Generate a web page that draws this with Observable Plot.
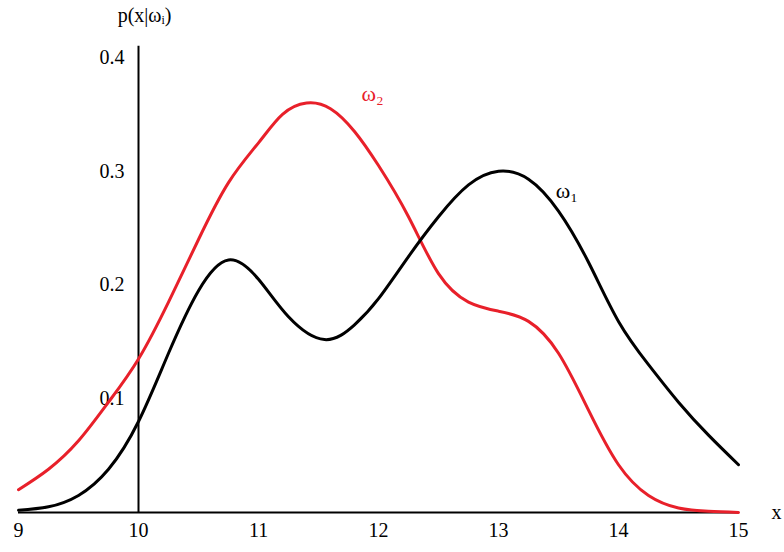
<!DOCTYPE html>
<html><head><meta charset="utf-8">
<script src="https://cdn.jsdelivr.net/npm/d3@7"></script>
<script src="https://cdn.jsdelivr.net/npm/@observablehq/plot@0.6"></script>
<style>body{margin:0;background:#fff}</style>
</head><body><div id="chart"></div>
<script>
const xs1 = [9, 9.25, 9.5, 9.75, 10, 10.25, 10.5, 10.75, 11, 11.25, 11.55, 11.8, 12, 12.25, 12.5, 12.75, 13, 13.25, 13.5, 13.75, 14, 14.25, 14.5, 14.75, 15]
const w1 = [0.002, 0.005, 0.015, 0.038, 0.08, 0.14, 0.195, 0.222, 0.205, 0.172, 0.152, 0.165, 0.188, 0.225, 0.26, 0.288, 0.30, 0.293, 0.265, 0.22, 0.168, 0.13, 0.097, 0.068, 0.042]
const xs2 = [9, 9.25, 9.5, 9.75, 10, 10.25, 10.5, 10.75, 11, 11.2, 11.4, 11.6, 11.8, 12, 12.25, 12.5, 12.75, 13, 13.25, 13.5, 13.75, 14, 14.25, 14.5, 14.75, 15]
const w2 = [0.02, 0.038, 0.063, 0.097, 0.135, 0.185, 0.24, 0.29, 0.325, 0.35, 0.36, 0.355, 0.335, 0.305, 0.26, 0.21, 0.185, 0.177, 0.168, 0.14, 0.09, 0.042, 0.015, 0.004, 0.001, 0.0]
const yTicks = [0.1, 0.2, 0.3, 0.4]
const xTicks = [9, 10, 11, 12, 13, 14, 15]

const d1 = xs1.map((x, i) => ({x, y: w1[i]}))
const d2 = xs2.map((x, i) => ({x, y: w2[i]}))
const font = "Liberation Serif, DejaVu Serif, serif"

document.getElementById("chart").append(Plot.plot({
  width: 784, height: 552,
  marginLeft: 18, marginRight: 46, marginTop: 57, marginBottom: 40,
  style: {fontFamily: font, fontSize: "20px", background: "#fff"},
  x: {domain: [9, 15]},
  y: {domain: [0, 0.4], axis: null},
  marks: [
    Plot.ruleY([0], {stroke: "black", strokeWidth: 2, x1: 9, x2: 15}),
    Plot.ruleX([10], {stroke: "black", strokeWidth: 2, y1: 0, y2: 0.41}),
    Plot.axisX({ticks: xTicks, tickFormat: d => d, tickSize: 0, tickPadding: 10, fontSize: 20, label: null}),
    Plot.text(yTicks, {x: 10, y: d => d, text: d => d.toFixed(1), dx: -14, textAnchor: "end", fontSize: 20}),
    Plot.line(d2, {x: "x", y: "y", stroke: "#e8202a", strokeWidth: 3, curve: "natural"}),
    Plot.line(d1, {x: "x", y: "y", stroke: "black", strokeWidth: 3, curve: "natural"}),
    Plot.text(["ω₂"], {x: 11.95, y: 0.368, fill: "#e8202a", fontSize: 22}),
    Plot.text(["ω₁"], {x: 13.57, y: 0.283, fill: "black", fontSize: 22}),
    Plot.text(["p(x|ωᵢ)"], {x: 10.05, y: 0.4, dy: -42, fontSize: 20}),
    Plot.text(["x"], {x: 15, y: 0, dx: 38, fontSize: 20})
  ]
}))
</script></body></html>
